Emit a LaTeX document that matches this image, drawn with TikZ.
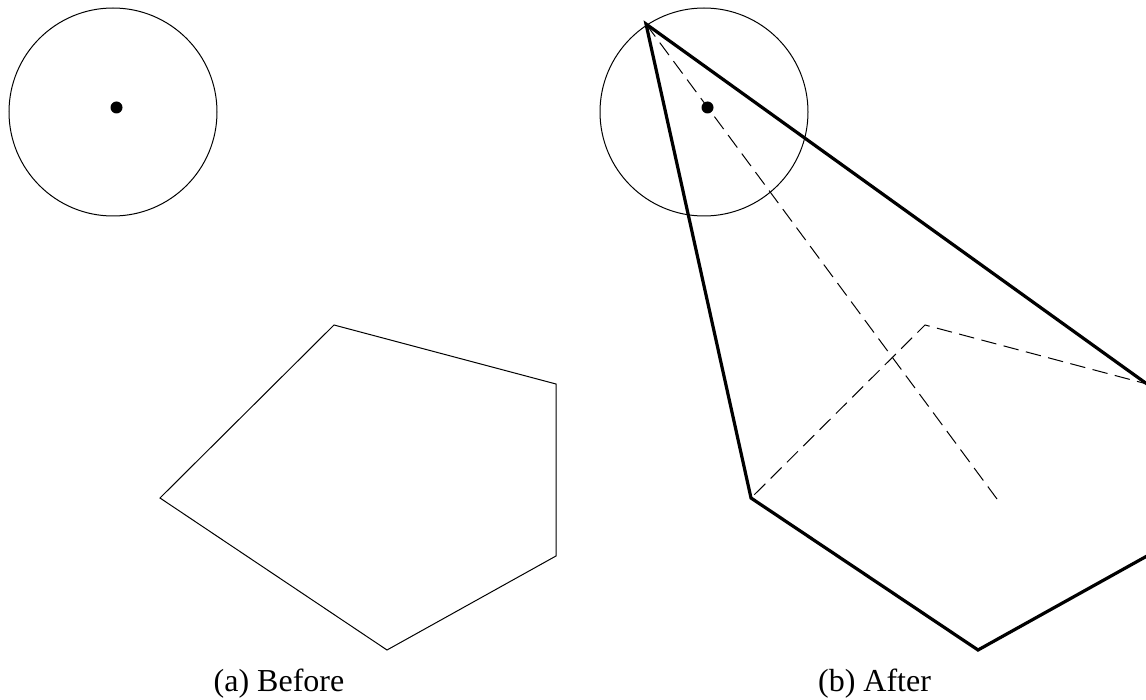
\documentclass[tikz,border=0pt]{standalone}
\usepackage{fontspec}
\setmainfont{Liberation Serif}
\tikzset{
  thinline/.style={draw=black,line width=1pt,line join=miter},
  thickline/.style={draw=black,line width=3.2pt,line join=miter},
  dashline/.style={draw=black,line width=1pt,dash pattern=on 15.5pt off 7.5pt},
  centredot/.style={fill=black},
  captiontext/.style={font=\fontsize{32}{36}\selectfont,anchor=base,inner sep=0pt}
}
\begin{document}
\begin{tikzpicture}[x=1pt,y=-1pt]
\useasboundingbox (0,0) rectangle (1146,700);
% left panel
\coordinate (LA) at (334,325);
\coordinate (LB) at (556,384);
\coordinate (LC) at (556,556);
\coordinate (LD) at (387,650);
\coordinate (LE) at (160,498);
\draw[thinline] (113,112) circle[radius=104];
\fill[centredot] (116.5,107.5) circle[radius=6];
\draw[thinline] (LA) -- (LB) -- (LC) -- (LD) -- (LE) -- cycle;
\node[captiontext] (capa) at (279,691.5) {(a) Before};
% right panel
\coordinate (RA) at (925,325);
\coordinate (RB) at (1147,384);
\coordinate (RC) at (1147,556);
\coordinate (RD) at (978,650);
\coordinate (RE) at (751,498);
\coordinate (P) at (646,24);
\coordinate (Q) at (997,499);
\draw[thinline] (704,112) circle[radius=104];
\fill[centredot] (707.5,107.5) circle[radius=6];
\draw[dashline,dash phase=18.3pt] (RE) -- (RA) -- (RB);
\draw[dashline] (Q) -- (P);
\draw[thickline] (RB) -- (P) -- (RE) -- (RD) -- (RC);
\node[captiontext] (capb) at (874.5,691.5) {(b) After};
\end{tikzpicture}
\end{document}
